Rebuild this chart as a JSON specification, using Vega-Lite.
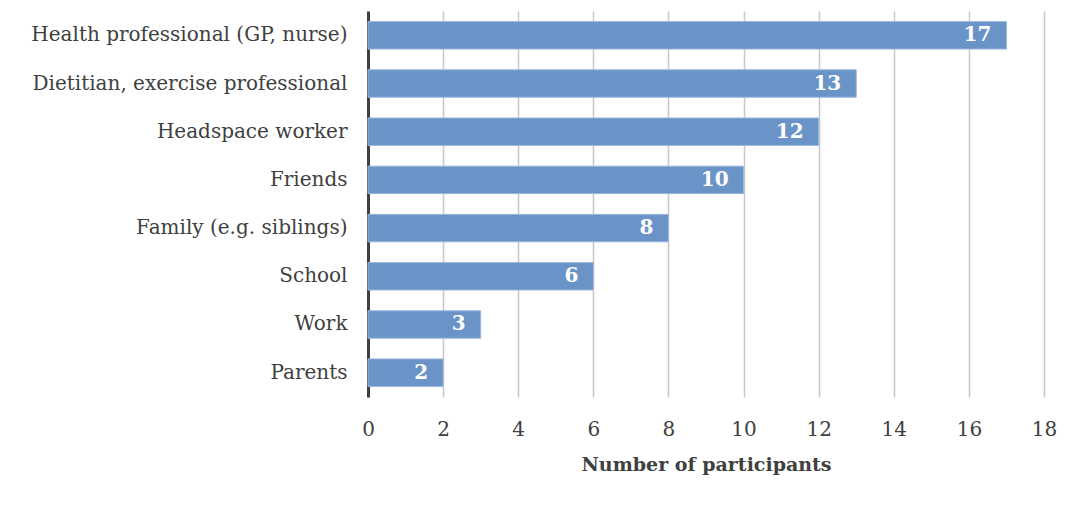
{
  "$schema": "https://vega.github.io/schema/vega-lite/v6.json",
  "width": 676,
  "height": 386,
  "autosize": {"type": "none"},
  "padding": {"left": 368, "top": 11, "right": 30, "bottom": 110},
  "background": "white",
  "config": {
    "view": {"stroke": null},
    "font": "DejaVu Serif"
  },
  "data": {
    "values": [
      {"source": "Health professional (GP, nurse)", "count": 17},
      {"source": "Dietitian, exercise professional", "count": 13},
      {"source": "Headspace worker", "count": 12},
      {"source": "Friends", "count": 10},
      {"source": "Family (e.g. siblings)", "count": 8},
      {"source": "School", "count": 6},
      {"source": "Work", "count": 3},
      {"source": "Parents", "count": 2}
    ]
  },
  "encoding": {
    "y": {
      "field": "source",
      "type": "nominal",
      "sort": null,
      "scale": {"paddingInner": 0.43, "paddingOuter": 0.22},
      "axis": {
        "title": null,
        "domainColor": "#404040",
        "domainWidth": 3,
        "ticks": false,
        "labelFont": "DejaVu Serif",
        "labelFontSize": 20,
        "labelColor": "#404040",
        "labelPadding": 21,
        "labelLimit": 400
      }
    },
    "x": {
      "field": "count",
      "type": "quantitative",
      "scale": {"domain": [0, 18]},
      "axis": {
        "title": "Number of participants",
        "titleFont": "DejaVu Serif",
        "titleFontSize": 19,
        "titleFontWeight": "bold",
        "titleColor": "#404040",
        "titlePadding": 16,
        "values": [0, 2, 4, 6, 8, 10, 12, 14, 16, 18],
        "domain": false,
        "ticks": false,
        "grid": true,
        "gridColor": "#c8c8c8",
        "gridWidth": 1.5,
        "labelFlush": false,
        "labelFont": "DejaVu Serif",
        "labelFontSize": 20,
        "labelColor": "#404040",
        "labelPadding": 22
      }
    }
  },
  "layer": [
    {
      "mark": {"type": "bar", "color": "#6a93c7", "stroke": "#9db7dc", "strokeWidth": 1}
    },
    {
      "mark": {"type": "text", "align": "right", "dx": -15, "color": "white", "fontWeight": "bold", "fontSize": 20, "font": "DejaVu Serif", "baseline": "middle"},
      "encoding": {"text": {"field": "count", "type": "quantitative"}}
    }
  ]
}
